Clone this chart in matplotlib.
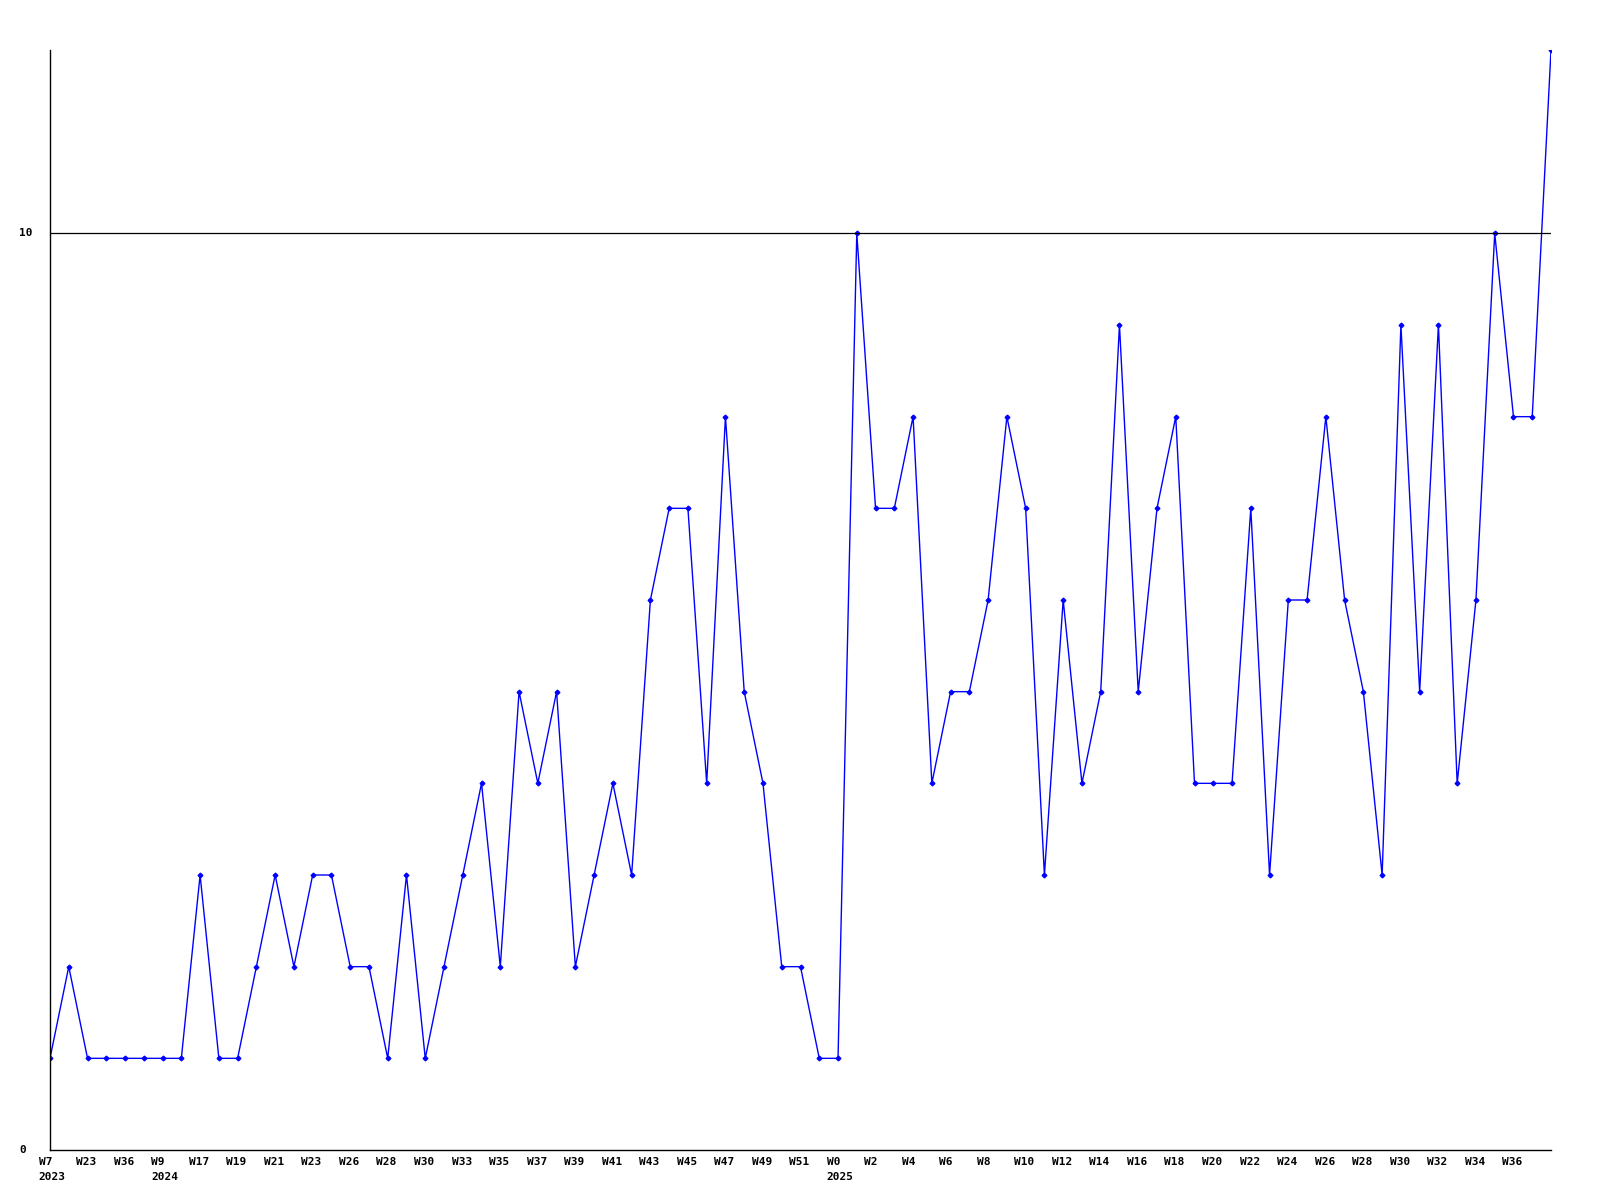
import matplotlib
matplotlib.use("Agg")
import matplotlib.pyplot as plt
import matplotlib.transforms as mtransforms
import numpy as np

# weekly counts, one value per week
values = [
    1, 2, 1, 1, 1, 1, 1, 1, 3, 1,
    1, 2, 3, 2, 3, 3, 2, 2, 1, 3,
    1, 2, 3, 4, 2, 5, 4, 5, 2, 3,
    4, 3, 6, 7, 7, 4, 8, 5, 4, 2,
    2, 1, 1, 10, 7, 7, 8, 4, 5, 5,
    6, 8, 7, 3, 6, 4, 5, 9, 5, 7,
    8, 4, 4, 4, 7, 3, 6, 6, 8, 6,
    5, 3, 9, 5, 9, 4, 6, 10, 8, 8,
    12,
]
# one label for every second week
week_labels = [
    "W7", "W23", "W36", "W9", "W17", "W19", "W21", "W23", "W26", "W28",
    "W30", "W33", "W35", "W37", "W39", "W41", "W43", "W45", "W47", "W49",
    "W51", "W0", "W2", "W4", "W6", "W8", "W10", "W12", "W14", "W16",
    "W18", "W20", "W22", "W24", "W26", "W28", "W30", "W32", "W34", "W36",
]
year_labels = {0: "2023", 3: "2024", 21: "2025"}
y_ticks = [0, 10]

font = dict(family="DejaVu Sans Mono", fontweight="bold", fontsize=8)
blue = "#0000ff"

fig = plt.figure(figsize=(16, 12), dpi=100)
ax = fig.add_axes([50 / 1600, 1 - 1150 / 1200, 1501 / 1600, 1100 / 1200])

x = np.arange(len(values))
ax.plot(x, values, color=blue, lw=1.0, marker="D", ms=2.4, mec=blue, mfc=blue)
ax.axhline(10, color="black", lw=0.9)

ax.set_xlim(0, len(values) - 1)
ax.set_ylim(0, 12)
for side in ("top", "right"):
    ax.spines[side].set_visible(False)
for side in ("left", "bottom"):
    ax.spines[side].set_linewidth(1.0)
    ax.spines[side].set_color("black")
ax.set_xticks([])
ax.set_yticks([])

# y labels, left aligned in the margin
ytrans = mtransforms.blended_transform_factory(fig.transFigure, ax.transData)
for v in y_ticks:
    fig.text(19 / 1600, v, str(v), transform=ytrans, ha="left", va="center", **font)

# x labels start a little left of their week
xtrans = mtransforms.blended_transform_factory(ax.transData, fig.transFigure)
for k, lab in enumerate(week_labels):
    xpos = 2 * k - 0.6
    ax.text(xpos, 1 - 1157 / 1200, lab, transform=xtrans, ha="left", va="top", **font)
    if k in year_labels:
        ax.text(xpos, 1 - 1172 / 1200, year_labels[k], transform=xtrans,
                ha="left", va="top", **font)

fig.savefig("out.png", dpi=100, facecolor="white")
